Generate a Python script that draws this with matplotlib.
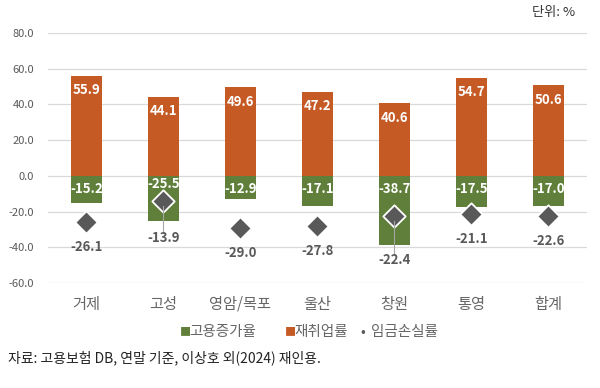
import matplotlib.pyplot as plt
import numpy as np

plt.rcParams['font.family'] = ['Noto Sans CJK KR', 'DejaVu Sans']

regions = ["거제", "고성", "영암/목포", "울산", "창원", "통영", "합계"]
emp_growth = [-15.2, -25.5, -12.9, -17.1, -38.7, -17.5, -17.0]   # 고용증가율
reemploy = [55.9, 44.1, 49.6, 47.2, 40.6, 54.7, 50.6]            # 재취업률
wage_loss = [-26.1, -13.9, -29.0, -27.8, -22.4, -21.1, -22.6]    # 임금손실률
yticks = [-60, -40, -20, 0, 20, 40, 60, 80]

GREEN = "#5F7F3A"
ORANGE = "#C55A25"
GREY = "#595959"

fig = plt.figure(figsize=(6, 3.88), dpi=100)
ax = fig.add_axes([0.08, 0.2706, 0.898, 0.6444])

x = np.arange(len(regions))
w = 0.41
ax.bar(x, emp_growth, w, color=GREEN, zorder=2)
ax.bar(x, reemploy, w, color=ORANGE, zorder=2)
ax.scatter(x, wage_loss, marker="D", s=130, color=GREY, edgecolor="white",
           linewidth=1.3, zorder=3)

for i in range(len(regions)):
    ax.text(x[i], reemploy[i] - 8, f"{reemploy[i]:.1f}", ha="center", va="center",
            color="white", fontsize=9.5, fontweight="bold", zorder=4)
    ey = -4.5 if regions[i] == "고성" else -7.5
    ax.text(x[i], ey, f"{emp_growth[i]:.1f}", ha="center", va="center",
            color="white", fontsize=9.5, fontweight="bold", zorder=4)
    # label under diamond; inside the green bar it is pushed below with a leader
    inside = wage_loss[i] > emp_growth[i]
    if inside:
        ly = -47.3 if regions[i] == "창원" else -35
        ax.plot([x[i], x[i]], [wage_loss[i] - 3, ly + 3], color="#A6A6A6",
                lw=0.8, zorder=3)
    else:
        ly = wage_loss[i] - 14
    ax.text(x[i], ly, f"{wage_loss[i]:.1f}", ha="center", va="center",
            color=GREY, fontsize=9.5, fontweight="bold", zorder=4)

ax.set_ylim(-60, 80)
ax.set_xlim(-0.5, len(regions) - 0.5)
ax.set_yticks(yticks)
ax.set_yticklabels([f"{v:.1f}" for v in yticks], color=GREY, fontsize=8)
ax.set_xticks(x)
ax.set_xticklabels(regions, color="#666666", fontsize=11)
ax.tick_params(length=0, axis="both")
ax.tick_params(axis="x", pad=9)
ax.tick_params(axis="y", pad=10)
ax.yaxis.grid(True, color="#D9D9D9", lw=0.9, zorder=0)
for s in ax.spines.values():
    s.set_visible(False)

# legend
ly = 0.145
fig.text(0.300, ly, "■", color=GREEN, fontsize=8, va="center", ha="left")
fig.text(0.316, ly, "고용증가율", color="#666666", fontsize=10.5, va="center", ha="left")
fig.text(0.475, ly, "■", color=ORANGE, fontsize=8, va="center", ha="left")
fig.text(0.491, ly, "재취업률", color="#666666", fontsize=10.5, va="center", ha="left")
fig.text(0.600, ly, "•", color=GREY, fontsize=10, va="center", ha="left")
fig.text(0.618, ly, "임금손실률", color="#666666", fontsize=10.5, va="center", ha="left")

fig.text(0.958, 0.968, "단위: %", color="#333333", fontsize=9.5, ha="right", va="center")
fig.text(0.013, 0.077, "자료: 고용보험 DB, 연말 기준, 이상호 외(2024) 재인용.",
         color="#222222", fontsize=10, ha="left", va="center")

fig.savefig("out.png", dpi=100)
